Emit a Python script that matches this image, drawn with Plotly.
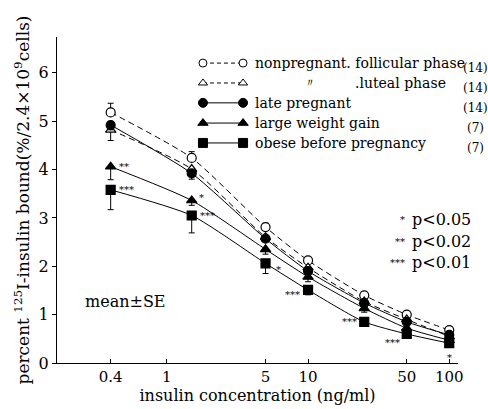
import numpy as np
import plotly.graph_objects as go

# ---------------- data ----------------
conc = [0.4, 1.5, 5, 10, 25, 50, 100]  # ng/ml

follicular = [5.18, 4.24, 2.81, 2.12, 1.40, 1.00, 0.68]
luteal = [4.82, 4.01, 2.60, 1.97, 1.27, 0.90, 0.55]
late_pregnant = [4.92, 3.92, 2.57, 1.90, 1.24, 0.85, 0.58]
weight_gain = [4.06, 3.36, 2.35, 1.78, 1.13, 0.72, 0.47]
obese = [3.58, 3.05, 2.06, 1.51, 0.85, 0.60, 0.41]

follicular_se = [0.19, 0.13, 0.08, 0.06, 0.05, 0.05, 0.04]
luteal_se = [0.22, 0.10, 0.08, 0.07, 0.06, 0.05, 0.04]
late_pregnant_se = [0.10, 0.12, 0.06, 0.06, 0.05, 0.04, 0.04]
weight_gain_se = [0.27, 0.10, 0.10, 0.10, 0.08, 0.05, 0.05]
obese_se = [0.41, 0.36, 0.21, 0.10, 0.06, 0.05, 0.05]

group_names = ["nonpregnant. follicular phase", ".luteal phase", "late pregnant",
               "large weight gain", "obese before pregnancy"]
group_n = ["(14)", "(14)", "(14)", "(7)", "(7)"]

x_ticks = [0.4, 1, 5, 10, 50, 100]
x_ticklabels = ["0.4", "1", "5", "10", "50", "100"]
y_ticks = [0, 1, 2, 3, 4, 5, 6]

# significance marks: (series, index, text)
sig_marks = [("weight_gain", 0, "**"), ("obese", 0, "***"),
             ("weight_gain", 1, "*"), ("obese", 1, "***"),
             ("obese", 2, "*"), ("obese", 3, "***"), ("obese", 4, "***"),
             ("obese", 5, "***"), ("obese", 6, "*")]
sig_legend = ["* p<0.05", "** p<0.02", "*** p<0.01"]

# ---------------- styles ----------------
FONT = "DejaVu Serif"
series = {
    "follicular": dict(y=follicular, se=follicular_se, up=True, dash=True,
                       symbol="circle", fill="white"),
    "luteal": dict(y=luteal, se=luteal_se, up=False, dash=True,
                   symbol="triangle-up", fill="white"),
    "late_pregnant": dict(y=late_pregnant, se=late_pregnant_se, up=False, dash=False,
                          symbol="circle", fill="black"),
    "weight_gain": dict(y=weight_gain, se=weight_gain_se, up=False, dash=False,
                        symbol="triangle-up", fill="black"),
    "obese": dict(y=obese, se=obese_se, up=False, dash=False, symbol="square",
                  fill="black"),
}

fig = go.Figure()
zeros = [0] * len(conc)
for key, s in series.items():
    fig.add_trace(go.Scatter(
        x=conc, y=s["y"], mode="lines",
        line=dict(color="black", width=1, dash="6px,4px" if s["dash"] else "solid",
                  shape="spline", smoothing=0.6),
        showlegend=False, hoverinfo="skip",
    ))
for key, s in series.items():
    if s["up"]:
        err = dict(type="data", symmetric=False, array=s["se"], arrayminus=zeros,
                   color="black", thickness=1, width=3)
    else:
        err = dict(type="data", symmetric=False, array=zeros, arrayminus=s["se"],
                   color="black", thickness=1, width=3)
    fig.add_trace(go.Scatter(
        x=conc, y=s["y"], mode="markers",
        marker=dict(symbol=s["symbol"], size=9,
                    color=s["fill"], line=dict(color="black", width=1.2)),
        error_y=err, showlegend=False, cliponaxis=False,
    ))

offsets = {
    ("weight_gain", 0): (13, 0), ("obese", 0): (16, 0),
    ("weight_gain", 1): (10, 3), ("obese", 1): (16, 0),
    ("obese", 2): (13, -6), ("obese", 3): (-16, -5), ("obese", 4): (-15, 0),
    ("obese", 5): (-14, -9), ("obese", 6): (0, -14),
}
for key, i, txt in sig_marks:
    xs, ys = offsets[(key, i)]
    fig.add_annotation(x=np.log10(conc[i]), y=series[key]["y"][i], xref="x", yref="y",
                       text=txt, showarrow=False, xshift=xs, yshift=ys,
                       font=dict(family=FONT, size=10, color="black"))

# ---------------- hand-drawn style legend on an overlay axis ----------------
leg_rows = [0.920, 0.859, 0.798, 0.736, 0.675]
leg_x = [0.364, 0.464]
for (key, s), ry in zip(series.items(), leg_rows):
    fig.add_trace(go.Scatter(
        x=leg_x, y=[ry, ry], xaxis="x2", yaxis="y2", mode="lines+markers",
        line=dict(color="black", width=1, dash="4px,3px" if s["dash"] else "solid"),
        marker=dict(symbol=s["symbol"], size=8 if s["fill"] == "white" else 9,
                    color=s["fill"], line=dict(color="black", width=1)),
        showlegend=False, hoverinfo="skip", cliponaxis=False,
    ))

text_x = [0.489, 0.738, 0.489, 0.489, 0.489]
for name, n, ry, tx in zip(group_names, group_n, leg_rows, text_x):
    fig.add_annotation(x=tx, y=ry, xref="paper", yref="paper", text=name,
                       showarrow=False, xanchor="left", yanchor="middle",
                       font=dict(family=FONT, size=14, color="black"))
    fig.add_annotation(x=1.043, y=ry - 0.015, xref="paper", yref="paper", text=n,
                       showarrow=False, xanchor="center", yanchor="middle",
                       font=dict(family=FONT, size=12, color="black"))
fig.add_annotation(x=0.631, y=leg_rows[1], xref="paper", yref="paper", text="〃",
                   showarrow=False, xanchor="center", yanchor="middle",
                   font=dict(family=FONT, size=12, color="black"))

for i, t in enumerate(sig_legend):
    star, p = t.split(" ")
    fig.add_annotation(x=0.873, y=0.440 - i * 0.066, xref="paper", yref="paper",
                       text=star, showarrow=False, xanchor="right", yanchor="middle",
                       font=dict(family=FONT, size=10, color="black"))
    fig.add_annotation(x=0.880, y=0.440 - i * 0.066, xref="paper", yref="paper",
                       text=p.replace("<", "&lt;"), showarrow=False, xanchor="left",
                       yanchor="middle", font=dict(family=FONT, size=16, color="black"))

fig.add_annotation(x=0.065, y=0.188, xref="paper", yref="paper", text="mean±SE",
                   showarrow=False, xanchor="left", yanchor="middle",
                   font=dict(family=FONT, size=16, color="black"))

fig.update_layout(
    width=488, height=409,
    margin=dict(l=57, r=30, t=37, b=46, autoexpand=False),
    paper_bgcolor="white", plot_bgcolor="white",
    font=dict(family=FONT, color="black"),
    xaxis=dict(type="log", range=[-0.778, 2.062], tickvals=x_ticks,
               ticktext=x_ticklabels, ticks="inside", ticklen=4, tickwidth=1,
               tickcolor="black", showline=True, linecolor="black", linewidth=1,
               showgrid=False, zeroline=False,
               tickfont=dict(family=FONT, size=15, color="black"),
               title=dict(text="insulin concentration (ng/ml)",
                          font=dict(family=FONT, size=16, color="black"), standoff=3)),
    yaxis=dict(range=[0, 6.74], tickvals=y_ticks, ticks="outside", ticklen=4,
               tickwidth=1, tickcolor="black", showline=True, linecolor="black",
               linewidth=1, showgrid=False, zeroline=False,
               tickfont=dict(family=FONT, size=16, color="black"),
               title=dict(text="percent <sup>125</sup>I-insulin bound(%/2.4×10<sup>9</sup>cells)",
                          font=dict(family=FONT, size=17, color="black"), standoff=4)),
    xaxis2=dict(overlaying="x", range=[0, 1], visible=False, anchor="y2"),
    yaxis2=dict(overlaying="y", range=[0, 1], visible=False, anchor="x2"),
)

fig.write_html("out.html")
